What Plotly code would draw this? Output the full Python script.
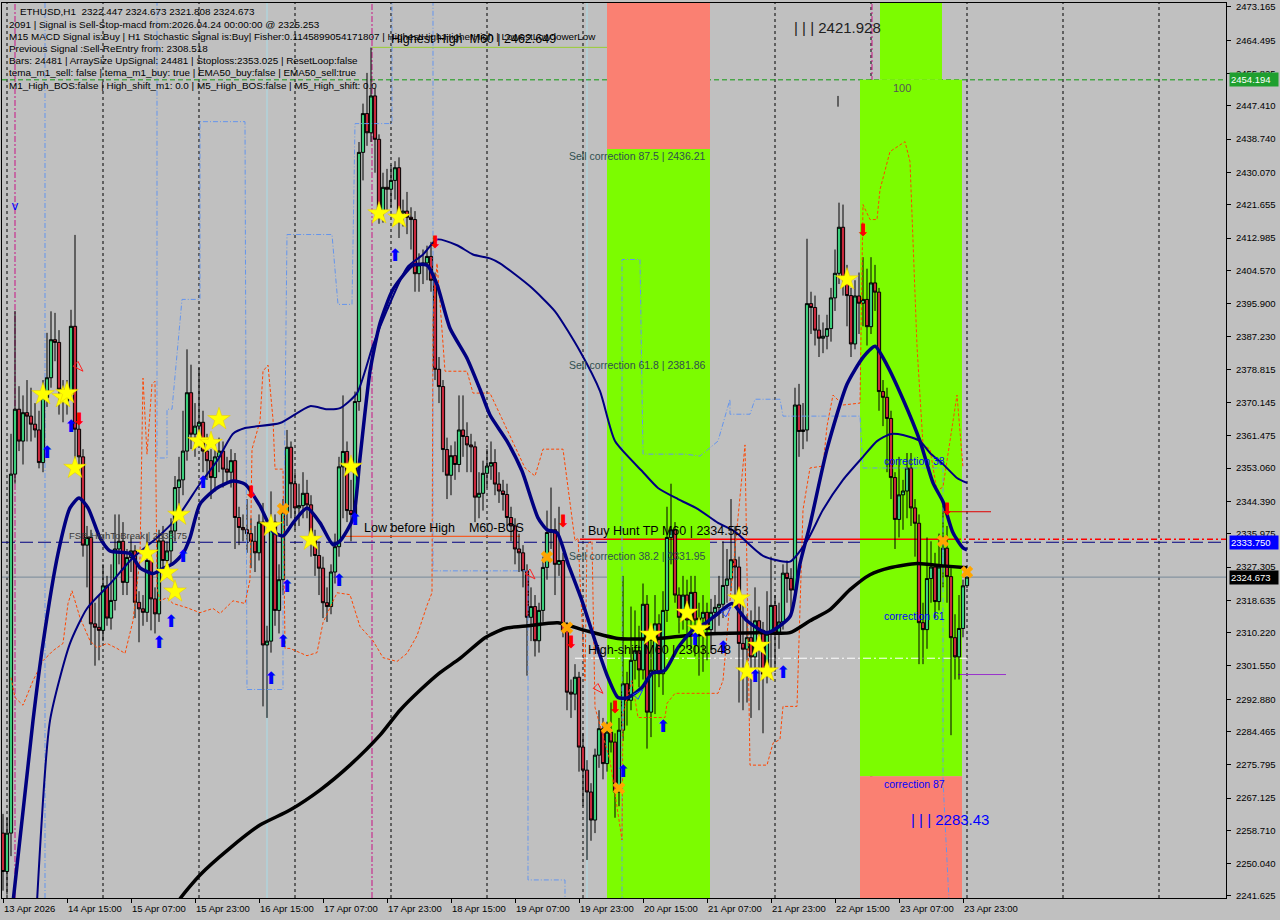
import pandas as pd
import plotly.graph_objects as go

START = pd.Timestamp("2026-04-13 23:00")
FONT = "Liberation Sans"

# ---------------- candles (H1) ----------------
opens = [
    2258, 2248, 2258, 2351.5, 2368.4, 2360.1, 2367.5, 2366.6, 2364.5, 2363,
    2354.5, 2371.4, 2376.6, 2386.5, 2385.8, 2373.6, 2370.5, 2373, 2390, 2363.2,
    2356, 2333, 2335, 2312.5, 2311.6, 2310.8, 2322.4, 2314, 2318.6, 2332,
    2334, 2323.3, 2329.8, 2331.5, 2318.1, 2316.4, 2315.5, 2329, 2319, 2315.1,
    2334.1, 2329, 2331.5, 2336.7, 2348, 2350, 2357.5, 2372.7, 2361.9, 2364,
    2365, 2357.5, 2355, 2350.6, 2356, 2357.5, 2352.8, 2352, 2355, 2340.2,
    2337.6, 2337, 2336, 2334, 2331, 2339, 2307, 2308, 2339, 2316,
    2324, 2341.6, 2358.5, 2349, 2342.7, 2343.3, 2346.5, 2343.5, 2334.3, 2330.3,
    2327, 2318, 2317, 2326, 2332.6, 2353.4, 2357.4, 2342, 2341, 2370.4,
    2435.3, 2445.4, 2440.4, 2450, 2438.7, 2419.5, 2426.2, 2425.7, 2428, 2431.3,
    2419.5, 2420, 2418.4, 2417.8, 2403.7, 2406, 2406.5, 2408.2, 2402, 2378.8,
    2374.3, 2357.9, 2351.2, 2356.3, 2354, 2363, 2361.3, 2359.1, 2358.6, 2345.5,
    2346.5, 2351.7, 2353.6, 2354.5, 2348.9, 2347.1, 2346.2, 2340.2, 2338, 2332,
    2331, 2326.3, 2314.2, 2317, 2308.1, 2316, 2327.2, 2336.3, 2337, 2328,
    2329, 2310.7, 2294.7, 2294.2, 2298.6, 2280.4, 2274.4, 2268.7, 2261.4, 2278.3,
    2285.2, 2276.1, 2284.3, 2281.7, 2268.7, 2284.8, 2296.9, 2292.6, 2303, 2305.5,
    2300.5, 2317.6, 2289.5, 2300.4, 2312.5, 2299.5, 2316, 2335, 2337, 2320,
    2314.2, 2320, 2313.5, 2320.7, 2313.5, 2314, 2315.5, 2311, 2315.5, 2316.8,
    2317.6, 2322.5, 2324.2, 2329.2, 2327.3, 2307.4, 2305.9, 2308.9, 2303.9, 2313.3,
    2310.8, 2299.4, 2309.8, 2317.3, 2309.8, 2313, 2325.7, 2324.3, 2321.3, 2369.5,
    2362.6, 2363, 2395.9, 2394.9, 2389, 2386.9, 2387.4, 2389.4, 2397.4, 2403.8,
    2415.8, 2402.8, 2398, 2385.4, 2397.9, 2396, 2397, 2389.9, 2401.3, 2398.9,
    2373, 2371.5, 2366, 2350.6, 2339.7, 2346.1, 2347.1, 2353.1, 2342.7, 2338.7,
    2312.8, 2311, 2324.3, 2327.3, 2318.3, 2327.3, 2332.2, 2324.8, 2308.9, 2303.9,
    2311.3, 2322.447,
]
highs = [
    2263, 2262, 2362, 2394, 2374.4, 2372, 2376, 2374, 2370, 2368,
    2376, 2388.3, 2393.9, 2393.5, 2389, 2376, 2376, 2394.3, 2413.8, 2366,
    2358, 2338, 2337, 2318, 2320, 2328, 2325, 2328, 2341, 2341,
    2339, 2332, 2335, 2333, 2321, 2320, 2336, 2331, 2322, 2337,
    2338, 2334, 2340, 2351, 2356, 2368, 2384, 2380, 2370, 2379.2,
    2368, 2362, 2358, 2360, 2361, 2360, 2356, 2358, 2357, 2343,
    2341, 2345, 2340, 2338, 2341, 2344, 2312, 2347, 2341, 2328,
    2345, 2363, 2360, 2352, 2349, 2352, 2350, 2346, 2337, 2334,
    2330, 2322, 2328, 2336, 2356, 2372, 2360, 2350, 2373, 2438,
    2448, 2456, 2462.6, 2452, 2440, 2430, 2431, 2432, 2433, 2434,
    2423, 2425, 2421, 2420, 2409, 2410, 2411, 2412, 2404, 2382,
    2376, 2361, 2359, 2360, 2372, 2372, 2365, 2362, 2360, 2352,
    2355, 2358, 2360, 2358, 2352, 2350, 2349, 2343, 2340, 2336,
    2333, 2328, 2322, 2320, 2318, 2330, 2342, 2348, 2340, 2343,
    2331, 2313, 2298, 2302, 2300, 2284, 2277, 2271, 2280, 2290,
    2288, 2287, 2292, 2284, 2288, 2325, 2300, 2317, 2316, 2312,
    2323, 2320, 2312, 2320, 2315, 2321, 2343, 2349, 2339, 2322,
    2325, 2324, 2325, 2325, 2318, 2320, 2318, 2319, 2320, 2325,
    2334, 2332, 2345, 2338, 2330, 2318, 2315, 2316, 2322, 2317,
    2313, 2321, 2330, 2320, 2318, 2328, 2329, 2327, 2374, 2375,
    2370, 2412.8, 2399, 2398, 2393, 2391, 2393, 2400, 2410, 2422.2,
    2421.7, 2406, 2400, 2402, 2404, 2408, 2405, 2408, 2406, 2400,
    2376, 2374, 2368, 2352, 2356, 2350, 2357, 2357, 2345, 2341,
    2318, 2335, 2334, 2331, 2336, 2344, 2338, 2327, 2315, 2320,
    2324, 2324.673,
]
lows = [
    2243, 2242, 2252, 2349, 2357.5, 2354, 2360, 2360, 2361, 2353,
    2352, 2369, 2374, 2380.9, 2367, 2365, 2367, 2371, 2355, 2352,
    2330, 2322, 2307, 2301.6, 2303, 2308, 2312, 2311, 2316, 2328,
    2320, 2320, 2326, 2314, 2307.7, 2312, 2313, 2310.8, 2310, 2313,
    2326, 2325, 2328, 2334, 2342, 2346, 2355, 2358, 2356, 2360,
    2352, 2350, 2345, 2347, 2352, 2348, 2349, 2348, 2332, 2333,
    2334, 2331, 2327, 2326, 2329, 2291, 2288, 2305, 2312, 2310,
    2320, 2338, 2340, 2337, 2338, 2340, 2340, 2330, 2325, 2320,
    2314, 2313, 2315, 2323, 2330, 2340, 2339, 2334, 2340, 2368,
    2428, 2437, 2438, 2430, 2416.7, 2417, 2420, 2421, 2423, 2413,
    2416, 2414, 2410, 2399, 2399, 2401, 2402, 2399, 2376, 2370,
    2352, 2345, 2346, 2350, 2352, 2356, 2352, 2352, 2339, 2340,
    2342, 2348, 2350, 2346, 2344, 2342, 2338, 2334, 2328, 2326,
    2322, 2299, 2308, 2304, 2305, 2313, 2324, 2332, 2320, 2325,
    2309, 2290, 2288, 2290, 2274, 2265, 2251, 2256, 2258, 2275,
    2272, 2274, 2279, 2262, 2265, 2282, 2286, 2290, 2298, 2296,
    2298, 2280, 2283, 2289, 2296, 2294, 2313, 2328, 2318, 2310,
    2311, 2306, 2306, 2304, 2299, 2300, 2303, 2305, 2310, 2312,
    2314, 2318, 2321, 2318, 2292, 2290, 2292, 2288, 2300, 2290,
    2284, 2297, 2298, 2300, 2306, 2311, 2318, 2315, 2319, 2356,
    2358, 2360, 2388, 2385, 2382, 2383, 2384, 2386, 2394, 2401,
    2398, 2390, 2382, 2384, 2388, 2390, 2385, 2388, 2394, 2368,
    2364, 2352, 2345, 2332, 2335, 2337, 2340, 2338, 2330, 2302,
    2302, 2306, 2318, 2314, 2316, 2322, 2318, 2283.5, 2298, 2298,
    2309, 2321.808,
]
closes = [
    2248, 2258, 2351.5, 2368.4, 2360.1, 2367.5, 2366.6, 2364.5, 2363, 2354.5,
    2371.4, 2376.6, 2386.5, 2385.8, 2373.6, 2370.5, 2373, 2390, 2363.2, 2356,
    2333, 2335, 2312.5, 2311.6, 2310.8, 2322.4, 2314, 2318.6, 2332, 2334,
    2323.3, 2329.8, 2331.5, 2318.1, 2316.4, 2315.5, 2329, 2319, 2315.1, 2334.1,
    2329, 2331.5, 2336.7, 2348, 2350, 2357.5, 2372.7, 2361.9, 2364, 2365,
    2357.5, 2355, 2350.6, 2356, 2357.5, 2352.8, 2352, 2355, 2340.2, 2337.6,
    2337, 2336, 2334, 2331, 2339, 2307, 2308, 2339, 2316, 2324,
    2341.6, 2358.5, 2349, 2342.7, 2343.3, 2346.5, 2343.5, 2334.3, 2330.3, 2327,
    2318, 2317, 2326, 2332.6, 2353.4, 2357.4, 2342, 2341, 2370.4, 2435.3,
    2445.4, 2440.4, 2450, 2438.7, 2419.5, 2426.2, 2425.7, 2428, 2431.3, 2419.5,
    2420, 2418.4, 2417.8, 2403.7, 2406, 2406.5, 2408.2, 2402, 2378.8, 2374.3,
    2357.9, 2351.2, 2356.3, 2354, 2363, 2361.3, 2359.1, 2358.6, 2345.5, 2346.5,
    2351.7, 2353.6, 2354.5, 2348.9, 2347.1, 2346.2, 2340.2, 2338, 2332, 2331,
    2326.3, 2314.2, 2317, 2308.1, 2316, 2327.2, 2336.3, 2337, 2328, 2329,
    2310.7, 2294.7, 2294.2, 2298.6, 2280.4, 2274.4, 2268.7, 2261.4, 2278.3, 2285.2,
    2276.1, 2284.3, 2281.7, 2268.7, 2284.8, 2296.9, 2292.6, 2303, 2305.5, 2300.5,
    2317.6, 2289.5, 2300.4, 2312.5, 2299.5, 2316, 2335, 2337, 2320, 2314.2,
    2320, 2313.5, 2320.7, 2313.5, 2314, 2315.5, 2311, 2315.5, 2316.8, 2317.6,
    2322.5, 2324.2, 2329.2, 2327.3, 2307.4, 2305.9, 2308.9, 2303.9, 2313.3, 2310.8,
    2299.4, 2309.8, 2317.3, 2309.8, 2313, 2325.7, 2324.3, 2321.3, 2369.5, 2362.6,
    2363, 2395.9, 2394.9, 2389, 2386.9, 2387.4, 2389.4, 2397.4, 2403.8, 2415.8,
    2402.8, 2398, 2385.4, 2397.9, 2396, 2397, 2389.9, 2401.3, 2398.9, 2373,
    2371.5, 2366, 2350.6, 2339.7, 2346.1, 2347.1, 2353.1, 2342.7, 2338.7, 2312.8,
    2311, 2324.3, 2327.3, 2318.3, 2327.3, 2332.2, 2324.8, 2308.9, 2303.9, 2311.3,
    2322.4, 2324.673,
]

# ---------------- moving averages (hours from first bar, value) ----------------
fast_h = [2.5, 7.5, 10, 13.75, 16.75, 19, 21.25, 24.25, 26.75, 31.75, 34.25, 37.5, 40, 42.5, 45,
          46.75, 49.25, 53.5, 57.5, 60.5, 64.25, 67.5, 70, 72.5, 76, 79.25, 82.5, 84.25, 87.5,
          89.25, 91.75, 94.25, 97.5, 102.5, 106, 108.5, 111.75, 116, 119.25, 121.75, 126, 129.75,
          133.75, 136, 138.5, 141.25, 144.75, 148, 151.25, 153.75, 156.25, 159.75, 162.25, 165.5,
          168.75, 172.25, 175.5, 178.75, 182.25, 186, 191, 196.75, 199.25, 201.75, 206, 211, 215,
          218, 221, 225, 229.25, 232.5, 235, 237.5, 240, 241]
fast_v = [2240, 2287.3, 2307.4, 2330.8, 2342.7, 2345.3, 2342.7, 2334.9, 2331.5, 2330.8, 2327.1,
          2325.6, 2326.9, 2328.2, 2330.8, 2334.9, 2343.7, 2347.9, 2349.7, 2348.9, 2343.2, 2336.5,
          2335.4, 2338.8, 2342.7, 2338.8, 2333.1, 2334.1, 2339.9, 2355.7, 2378.3, 2390.8, 2399.6,
          2405.9, 2405.9, 2400.9, 2389.5, 2381.7, 2373.6, 2366.9, 2360.1, 2352.3, 2340.1, 2337.0,
          2336.2, 2328.2, 2318.5, 2308.1, 2298.5, 2293.3, 2293.3, 2295.9, 2299.6, 2300.4, 2306.3,
          2310.7, 2312.6, 2315.2, 2317.8, 2313.3, 2310.2, 2314.4, 2328.2, 2338.3, 2358.0, 2374.9,
          2381.9, 2384.8, 2379.9, 2371.0, 2360.1, 2349.2, 2344.3, 2336.2, 2332.3, 2331.8]
slow_h = [8.5, 11.75, 16.75, 21, 26.75, 32.5, 38.5, 43.5, 49.25, 53.5, 57.5, 60.5, 69.25, 76.75,
          81, 84.25, 88.5, 92.5, 96, 101, 105, 108.5, 113.5, 117.5, 121.75, 124.25, 131.75, 138,
          144.25, 149.25, 153, 159.75, 163.75, 168.75, 173.75, 178.75, 183, 190, 196.75, 201, 205,
          210, 215, 218.5, 221.75, 225, 229.25, 231.75, 235, 238.5, 241]
slow_v = [2240, 2287.3, 2307.4, 2316.5, 2322.9, 2329.7, 2334.9, 2340.1, 2349.0, 2354.9, 2362.0,
          2363.5, 2364.8, 2369.2, 2368.4, 2368.7, 2372.6, 2385.1, 2394.2, 2405.3, 2408.7, 2412.6,
          2411.1, 2408.7, 2407.7, 2406.4, 2400.4, 2393.9, 2383.5, 2373.1, 2360.1, 2352.3, 2347.9,
          2345.0, 2342.4, 2338.8, 2336.5, 2330.2, 2328.7, 2334.1, 2342.2, 2350.0, 2356.0, 2360.1,
          2361.9, 2361.7, 2360.1, 2357.0, 2354.1, 2350.5, 2349.2]
long_h = [40, 44, 49.25, 56.75, 64.25, 71.75, 79.25, 86.75, 94.25, 99.25, 104.25, 109.25, 114.25,
          120.5, 125.5, 131.25, 138.75, 145.5, 153.75, 163.75, 170.5, 178.75, 189.25, 196.75,
          201.75, 206.75, 211.75, 216.75, 221.75, 228.5, 235, 241]
long_v = [2232, 2240.5, 2247.1, 2254.1, 2260.1, 2264.0, 2269.2, 2275.7, 2283.5, 2290.0, 2295.2,
          2299.8, 2303.5, 2308.9, 2311.3, 2312.0, 2312.8, 2310.8, 2308.7, 2308.7, 2309.4, 2310.0,
          2310.2, 2310.2, 2313.3, 2316.2, 2321.4, 2325.3, 2327.1, 2328.2, 2327.6, 2327.1]

# envelope-like dotted (orange-red) and stepped (cornflower) indicator lines
orange_h = [2, 3, 5, 7.5, 10, 12.5, 15, 16.25, 17.25, 19.25,
            21.75, 23.5, 26, 28.5, 30.5, 32.5, 34.25, 34.75, 35, 36,
            37.25, 38, 38.5, 39.25, 41, 42.5, 46, 49.25, 52.5, 54.25,
            57.5, 60.5, 61.75, 62.25, 64.25, 65, 66.25, 67.5, 68, 70,
            70.5, 71.75, 76, 78.5, 80, 83.5, 86.75, 89.25, 92.5, 95,
            98.5, 101, 103.5, 106, 107.25, 107.5, 108.5, 109.25, 110.5, 116,
            117.5, 121.75, 127.25, 130.5, 133, 135, 140, 140.75, 143, 143.75,
            145.5, 146, 147.25, 148, 151.75, 154.75, 155, 157.25, 158.75, 165.5,
            166, 168, 178.75, 180, 181.75, 185.5, 186.75, 191, 192.5, 194.25,
            195, 198.5, 199.25, 200, 201.75, 205, 206, 207.5, 210, 214.25,
            215, 216.75, 218.5, 219.25, 221.75, 225.5, 226.75, 228.5, 230, 231.75,
            233.5, 235, 238.5, 240]
orange_v = [2298.5, 2293.3, 2291.3, 2297.7, 2302.9, 2305.5, 2307.4, 2317.8, 2321.1, 2314.1,
            2308.1, 2306.3, 2307.4, 2306.1, 2304.8, 2313.3, 2329.7, 2368.7, 2376.5, 2356.7,
            2374.9, 2375.7, 2321.9, 2318.5, 2319.3, 2317.8, 2316.7, 2315.4, 2316.5, 2315.2,
            2318.5, 2317.8, 2324.0, 2358.0, 2365.3, 2378.3, 2379.9, 2365.8, 2352.8, 2352.8,
            2306.1, 2306.1, 2304.2, 2305.0, 2312.8, 2320.6, 2320.1, 2311.8, 2308.1, 2303.7,
            2302.7, 2304.8, 2309.4, 2317.3, 2320.6, 2391.8, 2406.4, 2396.2, 2378.3, 2378.3,
            2372.6, 2372.6, 2360.1, 2353.1, 2351.0, 2358.0, 2358.0, 2352.3, 2334.1, 2334.9,
            2297.7, 2333.3, 2334.1, 2290.7, 2276.9, 2256.2, 2289.2, 2297.7, 2288.1, 2288.1,
            2291.8, 2294.4, 2294.4, 2297.7, 2318.5, 2359.1, 2275.7, 2275.7, 2281.4, 2282.4,
            2291.0, 2291.0, 2316.2, 2342.2, 2353.1, 2353.6, 2364.0, 2372.1, 2369.5, 2370.0,
            2421.7, 2417.8, 2417.8, 2425.6, 2435.5, 2438.1, 2432.9, 2384.8, 2359.1, 2358.0,
            2347.1, 2348.2, 2372.1, 2353.1]
step_h = [38.5, 38.5, 41, 41, 42.25, 44.75, 49.25, 49.25, 60.5, 61, 70, 70, 71, 82.25, 83.75,
          87.25, 88, 97.25, 97.25, None, 107.5, 107.5, 131.25, 131.25, 140.5, 140.5, None,
          154.75, 154.75, 159.25, 160, 170.5, 174.25, 178.75, 181.75, 181.75, 186.75, 188,
          194.25, 195, 214.25, 215, 235, 235, 236.75]
step_v = [2480, 2355.7, 2355.7, 2368.4, 2368.4, 2397.0, 2397.0, 2443.3, 2443.3, 2295.4, 2295.4,
          2318.5, 2413.9, 2413.9, 2395.7, 2395.7, 2442.8, 2442.8, 2480, None, 2480, 2326.3,
          2326.3, 2245.8, 2245.8, 2235, None, 2235, 2407.4, 2407.4, 2356.7, 2356.7, 2356.2,
          2360.1, 2371.0, 2367.1, 2367.1, 2371.0, 2371.0, 2366.6, 2366.6, 2353.1, 2353.1,
          2271.8, 2235]

# ---------------- signal markers (bar index, price) ----------------
star_bars = [10, 15, 16, 18, 36, 41, 43, 44, 49, 52, 54, 67, 77, 87, 94, 99, 162, 171, 174, 184,
             186, 189, 191, 211]
star_prices = [2372.3, 2371.5, 2372.6, 2353.1, 2330.8, 2325.8, 2320.9, 2340.9, 2360.1, 2359.6,
               2365.8, 2338.0, 2334.4, 2353.4, 2419.4, 2418.3, 2309.7, 2315.4, 2311.2, 2319.1,
               2300.1, 2306.8, 2300.1, 2402.2]
up_bars = [11, 17, 39, 42, 45, 50, 67, 70, 71, 84, 88, 98, 155, 165, 173, 180, 188, 195]
up_prices = [2356.7, 2363.6, 2307.4, 2312.8, 2329.7, 2348.9, 2298.0, 2307.6, 2321.9, 2323.5,
             2339.3, 2408.2, 2273.6, 2285.5, 2308.1, 2306.1, 2298.5, 2299.6]
down_bars = [19, 62, 108, 140, 142, 153, 215, 236]
down_prices = [2365.3, 2346.4, 2411.6, 2338.8, 2307.4, 2290.5, 2414.7, 2341.9]
exit_bars = [70, 136, 141, 151, 154, 235, 241]
exit_prices = [2342.4, 2329.9, 2311.5, 2285.5, 2269.7, 2334.1, 2326.0]
hollow_sell_bars = [20, 133, 150]
hollow_sell_prices = [2378.3, 2324.2, 2294.4]
hollow_buy_bars = [160, 182]
hollow_buy_prices = [2295.4, 2316.9]

# ---------------- levels and zones ----------------
level_green = 2454.194
level_highest = 2462.649
level_buy_tp = 2334.553
level_fsb = 2333.75
level_current = 2324.673
level_high_shift = 2303.548
level_low_before = 2335.3
level_red_short = 2341.7
level_purple_short = 2299.3
zone_h0 = [151, 151, 214.25, 219.25, 214.25]
zone_h1 = [176.75, 176.75, 239.75, 234.75, 239.75]
zone_lo = [2436.21, 2235, 2272.8, 2454.194, 2235]
zone_hi = [2480, 2436.21, 2454.194, 2480, 2272.8]
zone_col = ["#fa8072", "#7cfc00", "#7cfc00", "#7cfc00", "#fa8072"]
magenta_h = [3, 92.25, 169, 217.25]
cyan_h = [66, 146]

ytick_vals = [2473.165, 2464.495, 2455.825, 2447.410, 2438.740, 2430.070, 2421.655, 2412.985,
              2404.570, 2395.900, 2387.230, 2378.815, 2370.145, 2361.475, 2353.060, 2344.390,
              2335.975, 2327.305, 2318.635, 2310.220, 2301.550, 2292.880, 2284.465, 2275.795,
              2267.125, 2258.710, 2250.040, 2241.625]
xtick_times = ["2026-04-13 23:00", "2026-04-14 15:00", "2026-04-15 07:00", "2026-04-15 23:00",
               "2026-04-16 15:00", "2026-04-17 07:00", "2026-04-17 23:00", "2026-04-18 15:00",
               "2026-04-19 07:00", "2026-04-19 23:00", "2026-04-20 15:00", "2026-04-21 07:00",
               "2026-04-21 23:00", "2026-04-22 15:00", "2026-04-23 07:00", "2026-04-23 23:00"]
xtick_labels = ["13 Apr 2026", "14 Apr 15:00", "15 Apr 07:00", "15 Apr 23:00", "16 Apr 15:00",
                "17 Apr 07:00", "17 Apr 23:00", "18 Apr 15:00", "19 Apr 07:00", "19 Apr 23:00",
                "20 Apr 15:00", "21 Apr 07:00", "21 Apr 23:00", "22 Apr 15:00", "23 Apr 07:00",
                "23 Apr 23:00"]
info_lines = [
    "ETHUSD,H1\u00a0\u00a02322.447 2324.673 2321.808 2324.673",
    "2091 | Signal is Sell-Stop-macd from:2026.04.24 00:00:00 @ 2325.253",
    "M15 MACD Signal is:Buy | H1 Stochastic Signal is:Buy| Fisher:0.1145899054171807 | HighestHigh:HigherHigh | LowestLow:lowerLow",
    "Previous Signal :Sell-ReEntry from: 2308.518",
    "Bars: 24481 | ArraySize UpSignal: 24481 | Stoploss:2353.025 | ResetLoop:false",
    "tema_m1_sell: false | tema_m1_buy: true | EMA50_buy:false | EMA50_sell:true",
    "M1_High_BOS:false | High_shift_m1: 0.0 | M5_High_BOS:false | M5_High_shift: 0.0",
]

# ---------------- figure ----------------
W, H = 1280, 920
ML, MR, MT, MB = 2, 54, 1, 22
Y_TOP, Y_BOT = 2474.205, 2241.095


def at(h):
    return None if h is None else START + pd.Timedelta(hours=h)


def paper(px, py):
    return (px - ML) / (W - ML - MR), 1 - (py - MT) / (H - MT - MB)


bar_times = [at(i) for i in range(len(closes))]
fig = go.Figure()

shapes = []
for h0, h1, lo, hi, c in zip(zone_h0, zone_h1, zone_lo, zone_hi, zone_col):
    shapes.append(dict(type="rect", xref="x", yref="y", x0=at(h0), x1=at(h1), y0=lo, y1=hi,
                       fillcolor=c, line=dict(width=0), layer="below"))
for d in pd.date_range("2026-04-14", "2026-04-26", freq="D"):
    shapes.append(dict(type="line", xref="x", yref="paper", x0=d, x1=d, y0=0, y1=1,
                       line=dict(color="black", width=1, dash="dot"), layer="below"))
for h in magenta_h:
    shapes.append(dict(type="line", xref="x", yref="paper", x0=at(h), x1=at(h), y0=0, y1=1,
                       line=dict(color="#c71585", width=1, dash="6px,2px,2px,2px"), layer="below"))
for h in cyan_h:
    shapes.append(dict(type="line", xref="x", yref="paper", x0=at(h), x1=at(h), y0=0, y1=1,
                       line=dict(color="#a8dce8", width=1), layer="below"))
shapes.append(dict(type="line", xref="x", yref="paper", x0=at(10.5), x1=at(10.5), y0=0, y1=1,
                   line=dict(color="#6495ed", width=1, dash="5px,2px,1px,2px"), layer="below"))


def hline(y, h0=None, h1=None, color="black", width=1, dash="solid"):
    if h0 is None:
        return dict(type="line", xref="paper", yref="y", x0=0, x1=1, y0=y, y1=y,
                    line=dict(color=color, width=width, dash=dash), layer="below")
    return dict(type="line", xref="x", yref="y", x0=at(h0), x1=at(h1), y0=y, y1=y,
                line=dict(color=color, width=width, dash=dash), layer="below")


shapes += [
    hline(level_green, color="#109a10", dash="5px,3px"),
    hline(level_highest, 92.25, 151, color="#9acd32"),
    hline(level_fsb, color="#000080", dash="13px,5px"),
    hline(level_buy_tp, 144.25, 238, color="#ff0000", width=1.5),
    hline(level_buy_tp, 238, 306, color="#ff0000", width=1.5, dash="6px,3px,2px,3px"),
    hline(level_current, color="#778899"),
    hline(level_high_shift, 143, 241, color="#ffffff", width=1, dash="8px,3px,2px,3px"),
    hline(level_low_before, 85.5, 129.25, color="#ff4500"),
    hline(level_red_short, 235.5, 247, color="#e00000"),
    hline(level_purple_short, 238.75, 250.75, color="#9932cc"),
    dict(type="line", xref="x", yref="y", x0=at(208.75), x1=at(208.75), y0=2447.2, y1=2450.0,
         line=dict(color="black", width=1), layer="below"),
]

# indicator lines
fig.add_trace(go.Scatter(x=[at(h) for h in step_h], y=step_v, mode="lines", connectgaps=False,
                         line=dict(color="#6495ed", width=1, dash="5px,2px,1px,2px"), hoverinfo="skip"))
fig.add_trace(go.Scatter(x=[at(h) for h in orange_h], y=orange_v, mode="lines",
                         line=dict(color="#ff4500", width=1, dash="3px,2px"), hoverinfo="skip"))

fig.add_trace(go.Candlestick(
    x=bar_times, open=opens, high=highs, low=lows, close=closes,
    increasing=dict(line=dict(color="black", width=1), fillcolor="#3ccf7c"),
    decreasing=dict(line=dict(color="black", width=1), fillcolor="#c8283c"),
    whiskerwidth=0, hoverinfo="skip"))

fig.add_trace(go.Scatter(x=[at(h) for h in long_h], y=long_v, mode="lines",
                         line=dict(color="black", width=3.5, shape="spline", smoothing=0.6), hoverinfo="skip"))
fig.add_trace(go.Scatter(x=[at(h) for h in slow_h], y=slow_v, mode="lines",
                         line=dict(color="#000080", width=2, shape="spline", smoothing=0.6), hoverinfo="skip"))
fig.add_trace(go.Scatter(x=[at(h) for h in fast_h], y=fast_v, mode="lines",
                         line=dict(color="#000080", width=3.5, shape="spline", smoothing=0.6), hoverinfo="skip"))


def markers(bars, prices, **mk):
    fig.add_trace(go.Scatter(x=[bar_times[i] for i in bars], y=prices, mode="markers",
                             marker=mk, hoverinfo="skip"))


def arrow_glyphs(bars, prices, glyph, color, pos):
    fig.add_trace(go.Scatter(x=[bar_times[i] for i in bars], y=prices, mode="text",
                             text=[glyph] * len(bars), textposition=pos,
                             textfont=dict(family="DejaVu Sans", size=17, color=color),
                             hoverinfo="skip"))


markers(star_bars, star_prices, symbol="star", size=17, color="#ffff00", line=dict(color="#e6c800", width=0.5))
arrow_glyphs(up_bars, up_prices, "\u2b06", "#0000ff", "middle center")
arrow_glyphs(down_bars, down_prices, "\u2b07", "#ff0000", "middle center")
markers(exit_bars, exit_prices, symbol="x", size=11, color="#ffa500", line=dict(width=0))
markers(hollow_sell_bars, hollow_sell_prices, symbol="arrow-open", angle=135, size=11,
        color="#ff2020", line=dict(color="#ff2020", width=1))
markers(hollow_buy_bars, hollow_buy_prices, symbol="arrow-open", angle=45, size=11,
        color="#2040ff", line=dict(color="#2040ff", width=1))
fig.add_trace(go.Scatter(x=[bar_times[3]], y=[2421.2], mode="text", text=["v"],
                         textfont=dict(family=FONT, size=13, color="#0000ff"), hoverinfo="skip"))

ann = []
for k, line in enumerate(info_lines):
    px = 18 if k == 0 else 7
    x, y = paper(px, 10 + 12.2 * k)
    ann.append(dict(xref="paper", yref="paper", x=x, y=y, xanchor="left", yanchor="middle",
                    text=line, showarrow=False, font=dict(family=FONT, size=9.9, color="black")))


def label(text, h, price, yanchor, color, size):
    ann.append(dict(xref="x", yref="y", x=at(h), y=price, xanchor="left", yanchor=yanchor,
                    text=text, showarrow=False, borderpad=0, font=dict(family=FONT, size=size, color=color)))


label("Sell correction 87.5 | 2436.21", 141.25, 2436.21, "top", "#2f4f4f", 10.5)
label("Sell correction 61.8 | 2381.86", 141.25, 2381.86, "top", "#2f4f4f", 10.5)
label("Sell correction 38.2 | 2331.95", 141.25, 2331.95, "top", "#2f4f4f", 10.5)
label("Buy Hunt TP M60 | 2334.553", 146, level_buy_tp, "bottom", "black", 12.5)
label("High-shift M60 | 2303.548", 146, level_high_shift, "bottom", "black", 12.5)
label("Low before High\u00a0\u00a0\u00a0\u00a0M60-BOS", 90, level_low_before, "bottom", "black", 12.5)
label("FSB-HighToBreak | 2333.75", 16.25, level_fsb, "bottom", "#3a3a3a", 9.5)
label("Highest High\u00a0\u00a0M60 | 2462.649", 96.75, level_highest, "bottom", "black", 12.5)
label("correction 38", 220, 2354.9, "middle", "#0000ff", 10.5)
label("correction 61", 220, 2314.6, "middle", "#0000ff", 10.5)
label("correction 87", 220, 2270.7, "middle", "#0000ff", 10.5)
label("100", 222.25, 2452.1, "middle", "#555555", 11)
label("|\u00a0|\u00a0|\u00a02421.928", 197.5, 2467.9, "middle", "#202020", 15)
label("|\u00a0|\u00a0|\u00a02283.43", 226.75, 2261.6, "middle", "#0000ff", 15)

for tt, tl in zip(xtick_times, xtick_labels):
    ann.append(dict(xref="x", yref="paper", x=pd.Timestamp(tt), y=0, xanchor="left", yanchor="top",
                    yshift=-3, xshift=-1, text=tl, showarrow=False,
                    font=dict(family=FONT, size=9.5, color="black")))

for price, bg in [(level_green, "#1f9f2f"), (level_fsb, "#0000ff"), (level_current, "#000000")]:
    ann.append(dict(xref="paper", yref="y", x=1, y=price, xanchor="left", yanchor="middle",
                    xshift=3, text=f"{price:.3f}", showarrow=False, bgcolor=bg, borderpad=1,
                    width=46, align="left", font=dict(family=FONT, size=9.5, color="white")))

fig.update_layout(
    width=W, height=H, margin=dict(l=ML, r=MR, t=MT, b=MB),
    paper_bgcolor="#c0c0c0", plot_bgcolor="#c0c0c0", showlegend=False,
    boxgap=0.15, boxgroupgap=0.05,
    shapes=shapes, annotations=ann,
    xaxis=dict(type="date", range=[at(-0.25), at(305.75)], rangeslider=dict(visible=False),
               showgrid=False, zeroline=False, showline=True, linecolor="black", linewidth=1,
               mirror=True, ticks="outside", ticklen=4, tickcolor="black",
               tickvals=[pd.Timestamp(t) for t in xtick_times], showticklabels=False),
    yaxis=dict(side="right", range=[Y_BOT, Y_TOP], showgrid=False, zeroline=False,
               showline=True, linecolor="black", linewidth=1, mirror=True,
               ticks="outside", ticklen=4, tickcolor="black", ticklabelstandoff=3,
               ticklabeloverflow="allow",
               tickvals=ytick_vals, ticktext=[f"{v:.3f}" for v in ytick_vals],
               tickfont=dict(family=FONT, size=9.5, color="black")),
)

fig.write_html("out.html", config={"displayModeBar": False},
               post_script="document.body.style.margin='0';document.body.style.overflow='hidden';"
                           "document.body.style.background='#c0c0c0';")
